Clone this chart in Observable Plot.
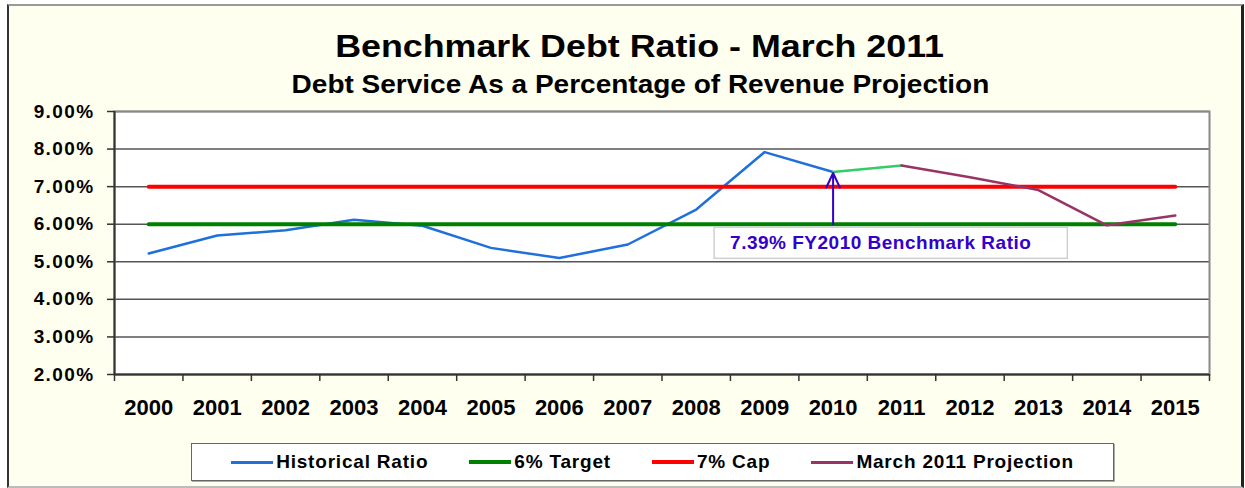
<!DOCTYPE html>
<html>
<head>
<meta charset="utf-8">
<script src="https://cdn.jsdelivr.net/npm/d3@7"></script>
<script src="https://cdn.jsdelivr.net/npm/@observablehq/plot@0.6"></script>
<style>
  html, body { margin: 0; padding: 0; background: #ffffff; }
  #page { position: relative; width: 1245px; height: 488px; overflow: hidden;
          font-family: "Liberation Sans", Arial, sans-serif; font-weight: bold; color: #000; }
  #panel { position: absolute; left: 7px; top: 4px; width: 1232px; height: 480px;
           background: #FFFFEF; border-left: 2px solid #333; border-top: 2px solid #999;
           border-right: 3px solid #222; border-bottom: 2px solid #bbb; }
  .ttl { position: absolute; left: 0; width: 1280px; text-align: center; white-space: nowrap; line-height: 1; }
  .ttl span { display: inline-block; }
  #title { top: 31px; font-size: 31px; }
  #title span { transform: scaleX(1.155); }
  #subtitle { top: 72px; font-size: 25px; }
  #subtitle span { transform: scaleX(1.12); }
  #chart { position: absolute; left: 0; top: 0; }
  #chart g[aria-label="y-axis tick label"] text { letter-spacing: 1.4px; }
  #legend { position: absolute; left: 191px; top: 443px; width: 921px; height: 36px;
            background: #fff; border: 1px solid #666; box-shadow: 1px 1px 0 #aaa;
            display: flex; align-items: center; justify-content: center; gap: 41px;
            font-size: 19px; letter-spacing: 0.8px; }
  #legend .item { display: flex; align-items: center; white-space: nowrap; }
  #legend .sw { width: 42px; margin-right: 3px; }
</style>
</head>
<body>
<div id="page">
  <div id="panel"></div>
  <div id="title" class="ttl"><span>Benchmark Debt Ratio - March 2011</span></div>
  <div id="subtitle" class="ttl"><span>Debt Service As a Percentage of Revenue Projection</span></div>
  <div id="chart"></div>
  <div id="legend"></div>
</div>
<script>
// ---- data ----
const years = [2000, 2001, 2002, 2003, 2004, 2005, 2006, 2007, 2008, 2009, 2010, 2011, 2012, 2013, 2014, 2015];
const historicalYears = [2000, 2001, 2002, 2003, 2004, 2005, 2006, 2007, 2008, 2009, 2010];
const historicalValues = [5.22, 5.70, 5.84, 6.12, 5.96, 5.37, 5.10, 5.46, 6.39, 7.92, 7.39];
const projectionYears = [2011, 2012, 2013, 2014, 2015];
const projectionValues = [7.56, 7.25, 6.91, 5.97, 6.23];
const targetValue = 6;
const capValue = 7;
const yTicks = [2, 3, 4, 5, 6, 7, 8, 9];
const seriesNames = ["Historical Ratio", "6% Target", "7% Cap", "March 2011 Projection"];
const seriesColors = ["#1f6fdc", "#008000", "#ff0000", "#993366"];
const bridgeColor = "#33cc66";
const noteYear = 2010;
const noteText = "7.39% FY2010 Benchmark Ratio";
const noteColor = "#3300cc";

// ---- derived tables ----
const historical = historicalYears.map((x, i) => ({x, y: historicalValues[i]}));
const projection = projectionYears.map((x, i) => ({x, y: projectionValues[i]}));
const target = years.map(x => ({x, y: targetValue}));
const cap = years.map(x => ({x, y: capValue}));
const bridge = [historical[historical.length - 1], projection[0]];
const note = [{x: noteYear, y: historicalValues[historicalYears.indexOf(noteYear)], label: noteText}];
const xDomain = [years[0] - 0.5, years[years.length - 1] + 0.5];
const boundaries = years.map(y => y - 0.5).concat([xDomain[1]]);

const chart = Plot.plot({
  width: 1245,
  height: 488,
  marginLeft: 114,
  marginRight: 36,
  marginTop: 111,
  marginBottom: 114,
  style: {background: "transparent", fontFamily: "Liberation Sans, Arial, sans-serif", fontWeight: "bold", color: "#000", overflow: "visible"},
  x: {domain: xDomain, label: null},
  y: {domain: [yTicks[0], yTicks[yTicks.length - 1]], label: null},
  marks: [
    Plot.frame({fill: "white"}),
    Plot.gridY(yTicks, {stroke: "#555", strokeOpacity: 1, strokeWidth: 1.5}),
    Plot.frame({stroke: "#888", strokeWidth: 2}),
    Plot.ruleX([xDomain[0]], {stroke: "#333", strokeWidth: 2}),
    Plot.ruleY([yTicks[0]], {stroke: "#333", strokeWidth: 2}),
    Plot.axisY({ticks: yTicks, tickSize: 7, tickPadding: 13, tickFormat: d => d.toFixed(2) + "%",
                fontSize: 19, fontWeight: "bold", stroke: "#333", strokeWidth: 1.5, fill: "#000", label: null}),
    Plot.axisX({ticks: boundaries, tickSize: 7, tickFormat: () => "", stroke: "#333", strokeWidth: 1.5, label: null}),
    Plot.axisX({ticks: years, tickSize: 0, tickPadding: 25, tickFormat: d => String(d),
                fontSize: 22, fontWeight: "bold", fill: "#000", label: null}),
    Plot.line(historical, {x: "x", y: "y", stroke: seriesColors[0], strokeWidth: 2.5}),
    Plot.line(target, {x: "x", y: "y", stroke: seriesColors[1], strokeWidth: 4}),
    Plot.line(cap, {x: "x", y: "y", stroke: seriesColors[2], strokeWidth: 4}),
    Plot.line(bridge, {x: "x", y: "y", stroke: bridgeColor, strokeWidth: 2.5}),
    Plot.line(projection, {x: "x", y: "y", stroke: seriesColors[3], strokeWidth: 2.5}),
    Plot.arrow(note, {x1: "x", x2: "x", y1: () => targetValue, y2: "y", stroke: noteColor,
                      strokeWidth: 2, headLength: 12, headAngle: 50, insetEnd: 1}),
    Plot.text(note, {x: "x", y: () => targetValue, text: "label", textAnchor: "start", dx: -103, dy: 19,
                     fontSize: 19, fontWeight: "bold", fill: noteColor})
  ]
});
document.getElementById("chart").appendChild(chart);

// white box behind the annotation text, sized from the text itself
const noteGroup = chart.querySelector('g[aria-label="text"]');
if (noteGroup) {
  const t = noteGroup.querySelector("text");
  t.style.letterSpacing = "0.5px";
  const b = t.getBBox();
  const rect = document.createElementNS("http://www.w3.org/2000/svg", "rect");
  rect.setAttribute("x", b.x - 16);
  rect.setAttribute("y", b.y - 5);
  rect.setAttribute("width", b.width + 52);
  rect.setAttribute("height", b.height + 10);
  rect.setAttribute("fill", "#fff");
  rect.setAttribute("stroke", "#d0d0d0");
  rect.setAttribute("stroke-width", "1.5");
  const tr = t.getAttribute("transform");
  if (tr) rect.setAttribute("transform", tr);
  const x = t.getAttribute("x"), y = t.getAttribute("y");
  if (x !== null || y !== null) {
    // getBBox already includes x/y attributes; keep rect in same user space
  }
  t.parentNode.insertBefore(rect, t);
}

// legend
const legend = document.getElementById("legend");
const swWidths = [3, 4, 4, 3];
seriesNames.forEach((name, i) => {
  const item = document.createElement("div");
  item.className = "item";
  const sw = document.createElement("div");
  sw.className = "sw";
  sw.style.height = swWidths[i] + "px";
  sw.style.background = seriesColors[i];
  const label = document.createElement("span");
  label.textContent = name;
  item.appendChild(sw);
  item.appendChild(label);
  legend.appendChild(item);
});
</script>
</body>
</html>
